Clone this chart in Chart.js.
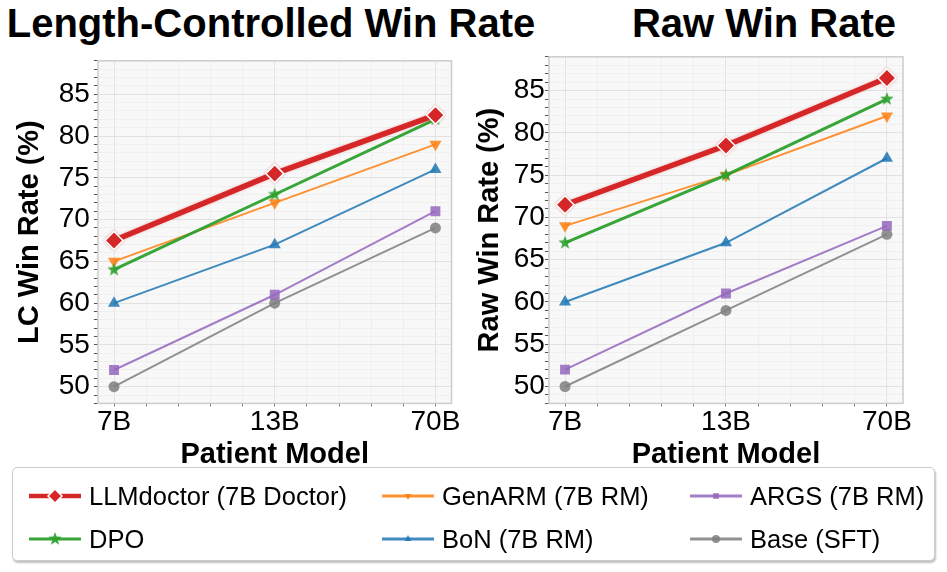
<!DOCTYPE html>
<html>
<head>
<meta charset="utf-8">
<script src="https://cdn.jsdelivr.net/npm/chart.js@4.4.1/dist/chart.umd.min.js"></script>
<style>
    body {
        margin: 0;
        width: 947px;
        height: 572px;
        background: #fff;
        position: relative;
        overflow: hidden;
        font-family: "Liberation Sans", Arial, Helvetica, sans-serif;
    }
    .chart-title {
        position: absolute;
        top: 3px;
        width: 640px;
        text-align: center;
        font-size: 40px;
        line-height: 40px;
        font-weight: bold;
        color: #000;
        white-space: nowrap;
    }
    canvas.plot {
        position: absolute;
        top: 40px;
    }
    #legend {
        position: absolute;
        left: 12px;
        top: 467px;
        width: 921px;
        height: 92px;
        border: 1.5px solid #cccccc;
        border-radius: 5px;
        box-shadow: 1px 2px 2px rgba(0, 0, 0, 0.25);
        background: #fff;
        z-index: 5;
    }
    .legend-item {
        position: absolute;
        height: 30px;
        display: flex;
        align-items: center;
        font-size: 25.5px;
        color: #000;
        white-space: nowrap;
    }
    .legend-item canvas {
        margin-right: 8px;
    }
</style>
</head>
<body>
<div class="chart-title" style="left: -49px;">Length-Controlled Win Rate</div>
<div class="chart-title" style="left: 444px;">Raw Win Rate</div>
<canvas id="lc-chart" class="plot" width="462" height="432" style="left: 0px;"></canvas>
<canvas id="raw-chart" class="plot" width="485" height="432" style="left: 462px;"></canvas>
<div id="legend"></div>

<script>
    // patient model sizes on the x axis
    const categories = ['7B', '13B', '70B'];
    const yTickLabels = [50, 55, 60, 65, 70, 75, 80, 85];
    const seriesNames = ['LLMdoctor (7B Doctor)', 'DPO', 'GenARM (7B RM)', 'BoN (7B RM)', 'ARGS (7B RM)', 'Base (SFT)'];

    // length-controlled win rate (%)
    const lcDoctor = [67.5, 75.5, 82.5];
    const lcDpo = [64, 73, 82];
    const lcGenarm = [65, 72, 79];
    const lcBon = [60, 67, 76];
    const lcArgs = [52, 61, 71];
    const lcBase = [50, 60, 69];

    // raw win rate (%)
    const rawDoctor = [71.5, 78.5, 86.5];
    const rawDpo = [67, 75, 84];
    const rawGenarm = [69, 75, 82];
    const rawBon = [60, 67, 77];
    const rawArgs = [52, 61, 69];
    const rawBase = [50, 59, 68];

    const FONT = '"Liberation Sans", Arial, Helvetica, sans-serif';
    Chart.defaults.font.family = FONT;
    Chart.defaults.color = '#000';

    function makeStar(r, color) {
        const size = Math.ceil(r * 2 + 2);
        const c = document.createElement('canvas');
        c.width = size;
        c.height = size;
        const ctx = c.getContext('2d');
        ctx.beginPath();
        for (let i = 0; i < 10; i++) {
            const a = -Math.PI / 2 + i * Math.PI / 5;
            const rr = i % 2 ? r * 0.42 : r;
            ctx.lineTo(size / 2 + rr * Math.cos(a), size / 2 + rr * Math.sin(a));
        }
        ctx.closePath();
        ctx.fillStyle = color;
        ctx.fill();
        return c;
    }

    // line / marker styles, same order as seriesNames
    const styles = [
        { color: '#d62728', fill: '#d62728', width: 5.5, point: 'rectRot', radius: 9, rotation: 0, edge: '#ffffff', edgeWidth: 1.5 },
        { color: 'rgba(44,160,44,0.95)', fill: '#2ca02c', width: 3, point: makeStar(7, 'rgba(44,160,44,0.9)'), radius: 7, rotation: 0, edge: '#2ca02c', edgeWidth: 0 },
        { color: 'rgba(255,127,14,0.85)', fill: 'rgba(255,127,14,0.85)', width: 2, point: 'triangle', radius: 7, rotation: 180, edge: 'rgba(255,127,14,0.85)', edgeWidth: 0 },
        { color: 'rgba(31,119,180,0.85)', fill: 'rgba(31,119,180,0.85)', width: 2, point: 'triangle', radius: 7, rotation: 0, edge: 'rgba(31,119,180,0.85)', edgeWidth: 0 },
        { color: 'rgba(148,103,189,0.85)', fill: 'rgba(148,103,189,0.85)', width: 2, point: 'rect', radius: 7, rotation: 0, edge: 'rgba(148,103,189,0.85)', edgeWidth: 0 },
        { color: 'rgba(127,127,127,0.85)', fill: 'rgba(127,127,127,0.85)', width: 2, point: 'circle', radius: 5.5, rotation: 0, edge: 'rgba(127,127,127,0.85)', edgeWidth: 0 }
    ];

    const plotFrame = {
        id: 'plotFrame',
        beforeDraw(chart) {
            const { ctx, chartArea: a } = chart;
            ctx.save();
            ctx.fillStyle = '#f8f8f8';
            ctx.fillRect(a.left, a.top, a.width, a.height);
            ctx.restore();
        },
        beforeDatasetsDraw(chart) {
            const { ctx, chartArea: a } = chart;
            ctx.save();
            ctx.strokeStyle = '#cccccc';
            ctx.lineWidth = 1.5;
            ctx.strokeRect(a.left, a.top, a.width, a.height);
            ctx.restore();
        },
        // soft glow around the LLMdoctor line
        beforeDatasetDraw(chart, args) {
            if (args.index === 0) {
                chart.ctx.save();
                chart.ctx.shadowColor = 'rgba(214,39,40,0.3)';
                chart.ctx.shadowBlur = 3;
            }
        },
        afterDatasetDraw(chart, args) {
            if (args.index === 0) {
                chart.ctx.restore();
            }
        }
    };

    function isWhole(v) {
        return Math.abs(v - Math.round(v)) < 1e-6;
    }

    function buildChart(canvasId, yTitle, values, pad) {
        const datasets = values.map((vals, i) => ({
            label: seriesNames[i],
            data: vals.map((v, j) => ({ x: j, y: v })),
            borderColor: styles[i].color,
            backgroundColor: styles[i].fill,
            borderWidth: styles[i].width,
            pointStyle: styles[i].point,
            pointRotation: styles[i].rotation,
            pointRadius: styles[i].radius,
            pointHoverRadius: styles[i].radius,
            pointBackgroundColor: styles[i].fill,
            pointBorderColor: styles[i].edge,
            pointBorderWidth: styles[i].edgeWidth,
            tension: 0
        }));

        return new Chart(document.getElementById(canvasId), {
            type: 'line',
            data: { datasets },
            options: {
                responsive: false,
                animation: false,
                layout: { padding: { left: pad.left, right: pad.right, top: 10, bottom: 0 } },
                plugins: {
                    legend: { display: false },
                    tooltip: { enabled: false }
                },
                scales: {
                    x: {
                        type: 'linear',
                        min: -0.1,
                        max: 2.1,
                        afterBuildTicks: (axis) => {
                            const ticks = [];
                            for (let i = 0; i <= 10; i++) ticks.push({ value: i / 5 });
                            axis.ticks = ticks;
                        },
                        ticks: {
                            autoSkip: false,
                            maxRotation: 0,
                            padding: 0,
                            color: '#000',
                            font: { size: 28, lineHeight: 1.1 },
                            callback: (v) => isWhole(v) ? categories[Math.round(v)] : ''
                        },
                        grid: {
                            color: (c) => isWhole(c.tick.value) ? '#e2e2e2' : '#efefef',
                            tickColor: '#777',
                            tickLength: 3
                        },
                        border: { display: false },
                        title: {
                            display: true,
                            text: 'Patient Model',
                            color: '#000',
                            font: { size: 29, weight: 'bold' },
                            padding: { top: 0, bottom: 0 }
                        }
                    },
                    y: {
                        min: 48,
                        max: 89,
                        afterBuildTicks: (axis) => {
                            const ticks = [];
                            for (let v = 48; v <= 89; v++) ticks.push({ value: v });
                            axis.ticks = ticks;
                        },
                        ticks: {
                            autoSkip: false,
                            padding: pad.tickPad,
                            color: '#000',
                            font: { size: 28 },
                            callback: (v) => yTickLabels.includes(v) ? String(v) : ''
                        },
                        grid: {
                            color: (c) => c.tick.value % 5 === 0 ? '#e2e2e2' : '#f0f0f0',
                            tickColor: '#555',
                            tickLength: 4
                        },
                        border: { display: false },
                        title: {
                            display: true,
                            text: yTitle,
                            color: '#000',
                            font: { size: 29, weight: 'bold' },
                            padding: { top: 4, bottom: pad.titleGap }
                        }
                    }
                }
            },
            plugins: [plotFrame]
        });
    }

    function buildLegend() {
        const legend = document.getElementById('legend');
        const swatchX = [16, 369, 677];
        const rowY = [13, 56];
        seriesNames.forEach((name, i) => {
            const item = document.createElement('div');
            item.className = 'legend-item';
            item.style.left = swatchX[Math.floor(i / 2)] + 'px';
            item.style.top = rowY[i % 2] + 'px';

            const sw = document.createElement('canvas');
            sw.width = 52;
            sw.height = 24;
            const ctx = sw.getContext('2d');
            const s = styles[i];
            ctx.strokeStyle = s.color;
            ctx.lineWidth = i === 0 ? 4.5 : 3;
            ctx.beginPath();
            ctx.moveTo(0, 12);
            ctx.lineTo(52, 12);
            ctx.stroke();
            ctx.fillStyle = s.fill;
            ctx.strokeStyle = s.edge;
            ctx.lineWidth = s.edgeWidth;
            Chart.helpers.drawPoint(ctx, {
                pointStyle: s.point,
                rotation: s.rotation,
                radius: i === 0 ? 7 : 4,
                borderWidth: s.edgeWidth
            }, 26, 12);

            const label = document.createElement('span');
            label.textContent = name;
            item.appendChild(sw);
            item.appendChild(label);
            legend.appendChild(item);
        });
    }

    buildChart('lc-chart', 'LC Win Rate (%)',
        [lcDoctor, lcDpo, lcGenarm, lcBon, lcArgs, lcBase],
        { left: 9, right: 10, tickPad: 4, titleGap: 7 });
    buildChart('raw-chart', 'Raw Win Rate (%)',
        [rawDoctor, rawDpo, rawGenarm, rawBon, rawArgs, rawBase],
        { left: 7, right: 44, tickPad: 0, titleGap: 6 });
    buildLegend();
</script>
</body>
</html>
